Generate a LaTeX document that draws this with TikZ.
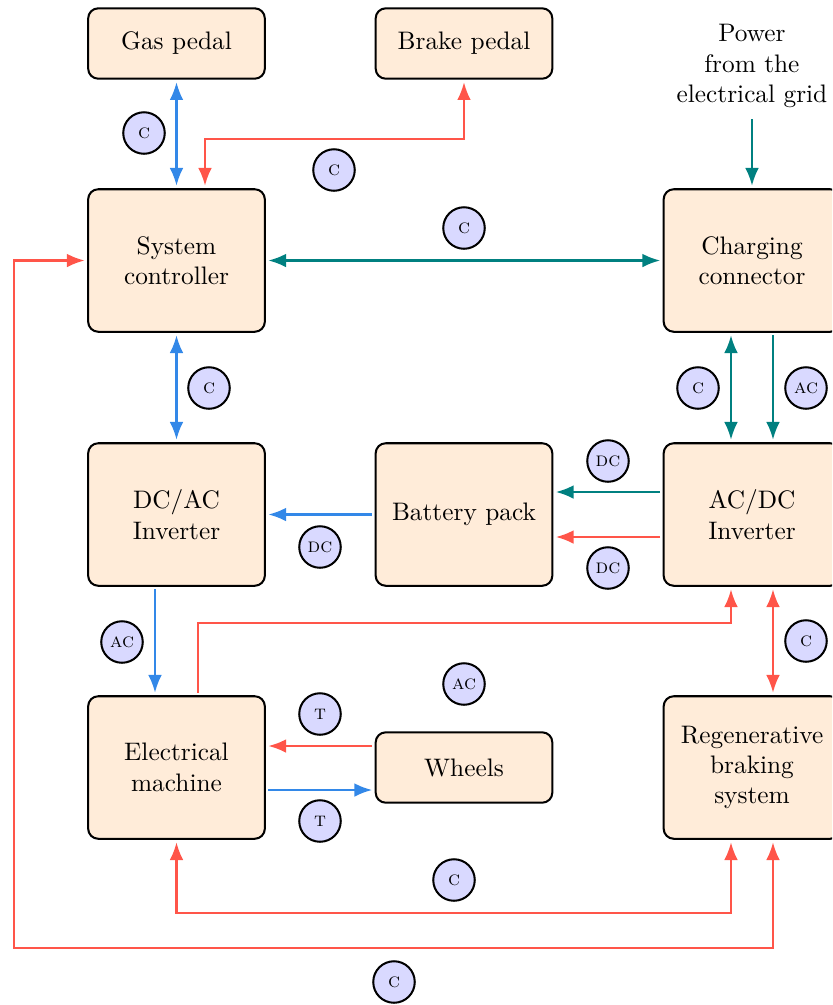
\documentclass[tikz,border=0pt]{standalone}
\usepackage{fontspec}
\usetikzlibrary{arrows.meta,calc}
\definecolor{myblue}{HTML}{3388E8}
\definecolor{myred}{HTML}{FF5549}
\definecolor{myteal}{rgb}{0,0.5,0.5}
\tikzset{
  box/.style={draw=black, thick, rounded corners=4pt, fill=orange!15, align=center,
    minimum width=69.8pt, minimum height=27.8pt, inner sep=2pt},
  tallbox/.style={box, minimum height=56.3pt},
  lbl/.style={circle, draw=black, thick, fill=blue!15, minimum size=16.4pt, inner sep=0pt,
    font=\footnotesize\scshape},
  tip/.tip={Latex[length=7pt, width=5.4pt]},
  conn/.style={thick, arrows={-tip}, shorten >=1pt, shorten <=1pt},
  bconn/.style={conn, arrows={tip-tip}},
}
\begin{document}
\begin{tikzpicture}[x=0.395pt, y=-0.395pt]
\path[use as bounding box, clip] (0,0) rectangle (832,1005);
% nodes
\node[box] (gas) at (176.5,43.5) {Gas pedal};
\node[box] (brake) at (464,43.5) {Brake pedal};
\node[align=center] (power) at (752,66) {Power\\from the\\electrical grid};
\node[tallbox] (sc) at (176.5,260.5) {System\\controller};
\node[tallbox] (cc) at (752,260.5) {Charging\\connector};
\node[tallbox] (dcac) at (176.5,514.5) {DC/AC\\Inverter};
\node[tallbox] (bat) at (464,514.5) {Battery pack};
\node[tallbox] (acdc) at (752,514.5) {AC/DC\\Inverter};
\node[tallbox] (em) at (176.5,767.5) {Electrical\\machine};
\node[box] (wheels) at (464,767.5) {Wheels};
\node[tallbox] (regen) at (752,767.5) {Regenerative\\braking\\system};
% connectors
\draw[bconn, myblue] (gas.south) -- (sc.north);
\draw[bconn, myred] (brake.south) -- ++(0,59) -| ($(sc.north)+(28.5,0)$);
\draw[bconn, myteal] (sc.east) -- (cc.west);
\draw[conn, myteal] (power.south) -- (cc.north);
\draw[bconn, myblue] (sc.south) -- (dcac.north);
\draw[bconn, myteal] ($(cc.south)+(-21,0)$) -- ($(acdc.north)+(-21,0)$);
\draw[conn, myteal] ($(cc.south)+(21,0)$) -- ($(acdc.north)+(21,0)$);
\draw[conn, myteal] ($(acdc.west)+(0,-22.5)$) -- ($(bat.east)+(0,-22.5)$);
\draw[conn, myred] ($(acdc.west)+(0,22.5)$) -- ($(bat.east)+(0,22.5)$);
\draw[conn, myblue] (bat.west) -- (dcac.east);
\draw[conn, myblue] ($(dcac.south)+(-21.5,0)$) -- ($(em.north)+(-21.5,0)$);
\draw[conn, myred] ($(em.north)+(21.5,0)$) -- ++(0,-72) -| ($(acdc.south)+(-21,0)$);
\draw[bconn, myred] ($(acdc.south)+(21,0)$) -- ($(regen.north)+(21,0)$);
\draw[conn, myred] ($(wheels.west)+(0,-21.5)$) -- ($(em.east)+(0,-21.5)$);
\draw[conn, myblue] ($(em.east)+(0,22.5)$) -- ($(wheels.west)+(0,22.5)$);
\draw[bconn, myred] (em.south) -- ++(0,73) -| ($(regen.south)+(-21,0)$);
\draw[bconn, myred] (sc.west) -- ++(-73,0) -- ++(0,687) -| ($(regen.south)+(21,0)$);
% labels
\node[lbl] (l1) at (144,133) {c};
\node[lbl] (l2) at (334,170) {c};
\node[lbl] (l3) at (464,228) {c};
\node[lbl] (l4) at (209,388) {c};
\node[lbl] (l5) at (698,388) {c};
\node[lbl] (l6) at (806,388) {ac};
\node[lbl] (l7) at (608,461) {dc};
\node[lbl] (l8) at (608,568) {dc};
\node[lbl] (l9) at (320,547) {dc};
\node[lbl] (l10) at (122,642) {ac};
\node[lbl] (l11) at (464,684) {ac};
\node[lbl] (l12) at (806,641) {c};
\node[lbl] (l13) at (320,714) {t};
\node[lbl] (l14) at (320,821) {t};
\node[lbl] (l15) at (454,880) {c};
\node[lbl] (l16) at (394,982) {c};
\end{tikzpicture}
\end{document}
